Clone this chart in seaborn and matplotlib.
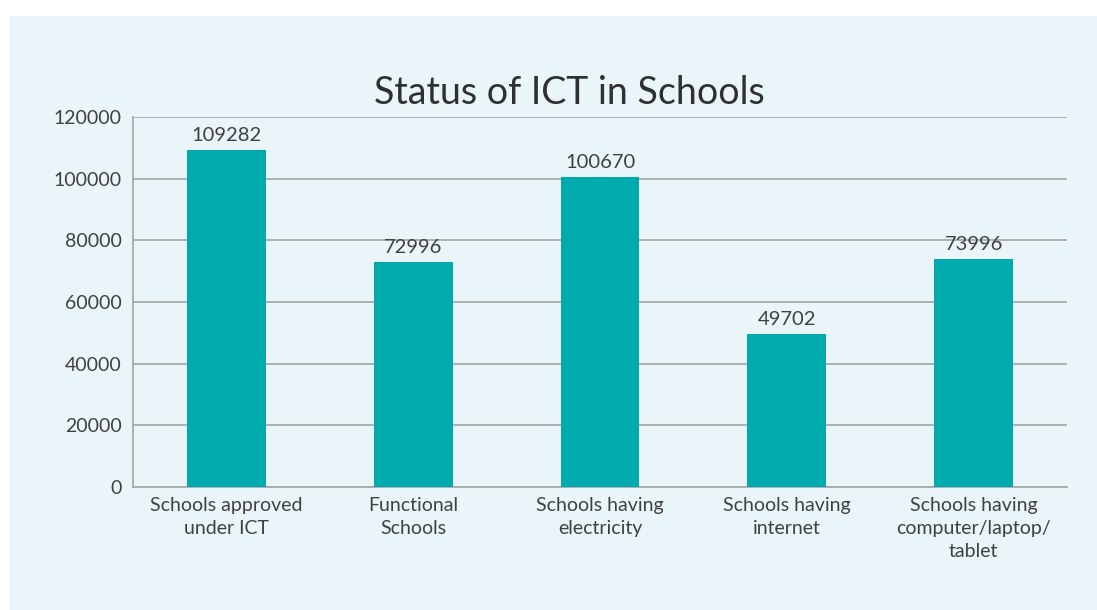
import matplotlib
matplotlib.use("Agg")
import matplotlib.pyplot as plt
import seaborn as sns
import pandas as pd
from matplotlib.patches import Rectangle

categories = ["Schools approved\nunder ICT", "Functional\nSchools", "Schools having\nelectricity",
              "Schools having\ninternet", "Schools having\ncomputer/laptop/\ntablet"]
values = [109282, 72996, 100670, 49702, 73996]
yticks = [0, 20000, 40000, 60000, 80000, 100000, 120000]

sns.set_theme(style="white")
plt.rcParams['font.family'] = ['Lato', 'DejaVu Sans']
txt = '#404040'

W, H = 1097, 610
fig = plt.figure(figsize=(W/100, H/100), dpi=100)
fig.patch.set_facecolor('white')
fig.patches.append(Rectangle((10/W, 0), 1 - 10/W, 1 - 16/H, transform=fig.transFigure,
                             facecolor='#EAF5FA', edgecolor='none', zorder=-10))

ax = fig.add_axes([133/W, 1 - 487/H, (1067-133)/W, (487-117)/H])
ax.set_facecolor('none')
ax.set_zorder(1)

df = pd.DataFrame({"cat": categories, "val": values})
sns.barplot(data=df, x="cat", y="val", color='#00AAAD', width=0.422, saturation=1,
            linewidth=0, edgecolor='none', ax=ax, zorder=3)

for c in ax.containers:
    ax.bar_label(c, labels=[str(v) for v in values], padding=4, fontsize=14.5, color=txt)

ax.set_ylim(0, 120000)
ax.set_xlim(-0.5, len(categories) - 0.5)
ax.set_yticks(yticks)
ax.set_yticklabels([str(t) for t in yticks], fontsize=14, color=txt)
ax.yaxis.grid(True, color='#AAAAAA', linewidth=1.3, zorder=0)
ax.set_axisbelow(True)
ax.set_xlabel("")
ax.set_ylabel("")
ax.tick_params(axis='x', which='major', length=0, labelsize=14, labelcolor=txt, pad=7)
for lab in ax.get_xticklabels():
    lab.set_linespacing(1.45)
ax.set_xticks([i - 0.5 for i in range(len(categories) + 1)], minor=True)
ax.tick_params(axis='x', which='minor', length=7, color='#AAAAAA', width=1.3)
ax.tick_params(axis='y', length=5, color='#AAAAAA', width=1.3, pad=3)
for s in ['top', 'right']:
    ax.spines[s].set_visible(False)
for s in ['left', 'bottom']:
    ax.spines[s].set_color('#AAAAAA')
    ax.spines[s].set_linewidth(1.3)

fig.text(569/W, 1 - 93/H, "Status of ICT in Schools", ha='center', va='center',
         fontsize=27, color='#303030')

fig.savefig("out.png", dpi=100)
